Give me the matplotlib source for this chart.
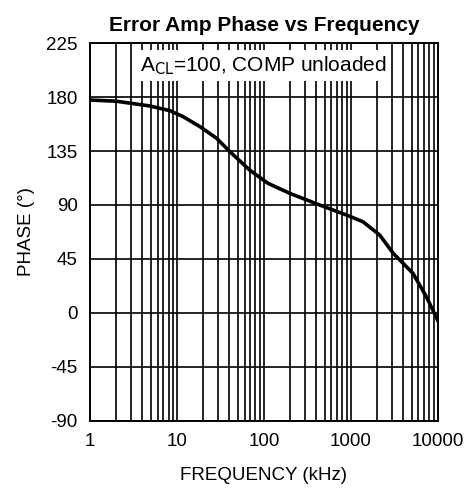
import numpy as np
import matplotlib
matplotlib.use('Agg')
import matplotlib.pyplot as plt
from matplotlib.ticker import FixedLocator, NullFormatter

plt.rcParams['font.family'] = ['Liberation Sans', 'DejaVu Sans']
plt.rcParams['axes.unicode_minus'] = False

# Data
freq_khz = [1, 2, 4.9, 8.3, 11.8, 18.4, 28.6, 40.7, 69, 112, 199, 438, 890, 1385, 2150, 3080, 5200, 7400, 10000]
phase_deg = [177.5, 176.5, 172.5, 168.6, 163.6, 155.3, 145.6, 134.4, 119, 108, 99.7, 90, 81.7, 76, 65, 49.7, 33, 13.6, -6]

y_ticks = [-90, -45, 0, 45, 90, 135, 180, 225]
x_ticks = [1, 10, 100, 1000, 10000]
x_tick_labels = ['1', '10', '100', '1000', '10000']

fig = plt.figure(figsize=(4.72, 4.91), dpi=100)
ax = fig.add_axes([0.1907, 0.1426, 0.7366, 0.7698])

ax.plot(freq_khz, phase_deg, color='black', lw=2.6, zorder=3)

ax.set_xscale('log')
ax.set_xlim(1, 10000)
ax.set_ylim(-90, 225)

ax.set_xticks(x_ticks)
ax.set_xticklabels(x_tick_labels)
minor = [m * 10**d for d in range(4) for m in range(2, 10)]
ax.xaxis.set_minor_locator(FixedLocator(minor))
ax.xaxis.set_minor_formatter(NullFormatter())
ax.set_yticks(y_ticks)

ax.grid(True, which='both', axis='x', color='black', lw=1.2)
ax.grid(True, which='major', axis='y', color='black', lw=1.2)
ax.set_axisbelow(True)
ax.tick_params(which='both', length=0, labelsize=13.5, pad=9)

for s in ax.spines.values():
    s.set_linewidth(1.4)

ax.set_title('Error Amp Phase vs Frequency', fontsize=15, fontweight='bold', pad=9)
ax.set_xlabel('FREQUENCY (kHz)', fontsize=13.5, labelpad=12)
ax.set_ylabel('PHASE (°)', fontsize=13.5, labelpad=8)

ax.text(0.5, 0.94, r'A$_{\rm CL}$=100, COMP unloaded', transform=ax.transAxes,
        ha='center', va='center', fontsize=15, zorder=4,
        bbox=dict(facecolor='white', edgecolor='none', pad=3))

fig.savefig('out.png', dpi=100)
